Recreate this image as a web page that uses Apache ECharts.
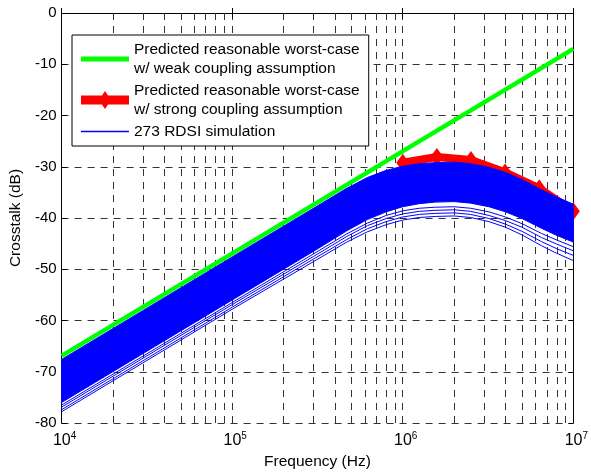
<!DOCTYPE html>
<html>
<head>
<meta charset="utf-8">
<script src="https://cdn.jsdelivr.net/npm/echarts@6/dist/echarts.min.js"></script>
<style>
  html, body { margin: 0; padding: 0; background: #fff; }
  #chart { width: 591px; height: 475px; }
</style>
</head>
<body>
<div id="chart"></div>
<script>
// frequency points (Hz) used for the simulation band
const freqs = [1e4, 1e5, 3e5, 4.7e5, 6.2e5, 8e5, 1e6, 1.25e6, 1.55e6, 2e6, 2.5e6, 3.2e6, 4e6, 5e6, 6.5e6, 8e6, 1e7];
// upper / lower edge of the dense part of the 273 simulated curves (dB)
const bandTop = [-67.6, -47.6, -38.1, -34.2, -32.1, -30.7, -29.9, -29.4, -29.2, -29.1, -29.4, -30.1, -31.1, -32.5, -34.5, -35.9, -37.3];
const bandBottom = [-76.0, -56.0, -46.5, -42.5, -40.3, -38.8, -37.8, -37.2, -36.9, -36.8, -37.1, -37.8, -38.8, -40.1, -42.0, -43.4, -44.7];
// a few separate curves below the dense part
const lowLine1 = [-76.5, -56.5, -47.0, -43.1, -41.0, -39.5, -38.6, -38.1, -37.9, -37.8, -38.1, -38.8, -39.8, -41.1, -43.0, -44.3, -45.6];
const lowLine2 = [-76.9, -56.9, -47.5, -43.6, -41.5, -40.1, -39.2, -38.7, -38.5, -38.4, -38.7, -39.5, -40.5, -41.8, -43.8, -45.1, -46.4];
const lowLine3 = [-77.4, -57.4, -48.0, -44.2, -42.1, -40.7, -39.8, -39.3, -39.1, -39.0, -39.3, -40.1, -41.2, -42.6, -44.6, -46.0, -47.3];
const lowLine4 = [-77.8, -57.8, -48.5, -44.7, -42.7, -41.3, -40.4, -39.9, -39.7, -39.6, -39.9, -40.7, -41.8, -43.3, -45.4, -46.9, -48.3];

// weak coupling worst case (straight line)
const weakFreqs = [1e4, 1e7];
const weakValues = [-66.9, -7.0];

// strong coupling worst case
const strongFreqs = [1e6, 1.585e6, 2.512e6, 3.981e6, 6.31e6, 1e7];
const strongValues = [-29.2, -28.1, -28.7, -31.1, -34.2, -38.7];

// log grid lines between decades
const minorFreqs = [
  2e4, 3e4, 4e4, 5e4, 6e4, 7e4, 8e4, 9e4,
  2e5, 3e5, 4e5, 5e5, 6e5, 7e5, 8e5, 9e5,
  2e6, 3e6, 4e6, 5e6, 6e6, 7e6, 8e6, 9e6,
];

const NAME_WEAK = 'weak';
const NAME_STRONG = 'strong';
const NAME_SIM = 'sim';
const legendText = {
  weak: 'Predicted reasonable worst-case\nw/ weak coupling assumption',
  strong: 'Predicted reasonable worst-case\nw/ strong coupling assumption',
  sim: '273 RDSI simulation',
};

const FONT = 'Liberation Sans, Arial, sans-serif';
const BLUE = '#0000ff';
const GREEN = '#00ff00';
const RED = '#ff0000';
const gridDash = { type: [7, 6], color: '#333', width: 1 };

const pairs = (xs, ys) => xs.map((x, i) => [x, ys[i]]);

const blueLine = {
  type: 'line',
  symbol: 'none',
  z: 4,
  color: BLUE,
  lineStyle: { color: BLUE, width: 1 },
  itemStyle: { color: BLUE, borderColor: BLUE },
  animation: false,
};

const chart = echarts.init(document.getElementById('chart'));
chart.setOption({
  animation: false,
  textStyle: { fontFamily: FONT },
  grid: {
    left: 60, right: 11, top: 13, bottom: 50,
  },
  legend: {
    z: 20,
    orient: 'vertical',
    left: 72,
    top: 35,
    padding: [5, 9, 5, 9],
    itemGap: 3,
    itemWidth: 48,
    itemHeight: 18,
    symbolKeepAspect: true,
    backgroundColor: '#fff',
    borderColor: '#000',
    borderWidth: 1,
    borderRadius: 0,
    selectedMode: false,
    textStyle: {
      fontFamily: FONT, fontSize: 15.5, lineHeight: 19, color: '#000',
    },
    formatter: (name) => legendText[name],
    data: [
      {
        name: NAME_WEAK,
        icon: 'path://M0,0h48v5h-48z',
        itemStyle: { color: GREEN, borderWidth: 0 },
      },
      {
        name: NAME_STRONG,
        icon: 'path://M0,4.5h48v9h-48z M24,0L30,9L24,18L18,9z',
        itemStyle: { color: RED, borderWidth: 0 },
      },
      {
        name: NAME_SIM,
        icon: 'path://M0,0h48v1.5h-48z',
        itemStyle: { color: BLUE, borderColor: BLUE, borderWidth: 0 },
      },
    ],
  },
  xAxis: [
    {
      type: 'log',
      logBase: 10,
      min: 1e4,
      max: 1e7,
      name: 'Frequency (Hz)',
      nameLocation: 'middle',
      nameGap: 31,
      nameTextStyle: { fontFamily: FONT, fontSize: 15.5, color: '#000' },
      axisLine: { lineStyle: { color: '#000', width: 1 } },
      axisTick: { inside: true, length: 5, lineStyle: { color: '#000' } },
      axisLabel: {
        margin: 8,
        color: '#000',
        formatter: (v) => `{b|10}{s|${Math.round(Math.log10(v))}}`,
        rich: {
          b: { fontFamily: FONT, fontSize: 16, padding: [0, 0, 0, 6] },
          s: { fontFamily: FONT, fontSize: 10, padding: [0, 0, 9, 0] },
        },
      },
      splitLine: { show: true, lineStyle: gridDash },
    },
    {
      type: 'log',
      logBase: 10,
      min: 1e4,
      max: 1e7,
      position: 'top',
      axisLine: { lineStyle: { color: '#000', width: 1 } },
      axisTick: { inside: true, length: 5, lineStyle: { color: '#000' } },
      axisLabel: { show: false },
      splitLine: { show: false },
    },
  ],
  yAxis: [
    {
      type: 'value',
      min: -80,
      max: 0,
      interval: 10,
      name: 'Crosstalk (dB)',
      nameLocation: 'middle',
      nameGap: 37,
      nameTextStyle: { fontFamily: FONT, fontSize: 15.5, color: '#000' },
      axisLine: { show: true, lineStyle: { color: '#000', width: 1 } },
      axisTick: { show: true, inside: true, length: 5, lineStyle: { color: '#000' } },
      axisLabel: {
        margin: 5, color: '#000', fontFamily: FONT, fontSize: 15,
      },
      splitLine: { show: true, lineStyle: gridDash },
    },
    {
      type: 'value',
      min: -80,
      max: 0,
      interval: 10,
      position: 'right',
      axisLine: { show: true, lineStyle: { color: '#000', width: 1 } },
      axisTick: { show: true, inside: true, length: 5, lineStyle: { color: '#000' } },
      axisLabel: { show: false },
      splitLine: { show: false },
    },
  ],
  series: [
    {
      // minor log grid
      name: 'minorGrid',
      type: 'line',
      data: [],
      z: 1,
      markLine: {
        z: 1,
        silent: true,
        animation: false,
        symbol: ['none', 'none'],
        label: { show: false },
        lineStyle: gridDash,
        data: minorFreqs.map((f) => ({ xAxis: f })),
      },
    },
    {
      name: NAME_WEAK,
      type: 'line',
      symbol: 'none',
      z: 2,
      data: pairs(weakFreqs, weakValues),
      lineStyle: { color: GREEN, width: 4.5 },
      itemStyle: { color: GREEN },
    },
    {
      name: NAME_STRONG,
      type: 'line',
      symbol: 'diamond',
      symbolSize: [13, 18],
      showSymbol: true,
      clip: false,
      z: 3,
      data: pairs(strongFreqs, strongValues),
      lineStyle: { color: RED, width: 8 },
      itemStyle: { color: RED },
    },
    {
      ...blueLine,
      name: NAME_SIM,
      data: pairs(freqs, lowLine1),
    },
    { ...blueLine, name: 'low2', data: pairs(freqs, lowLine2) },
    { ...blueLine, name: 'low3', data: pairs(freqs, lowLine3) },
    { ...blueLine, name: 'low4', data: pairs(freqs, lowLine4) },
    {
      // dense part of the simulated curves, filled between its edges
      name: 'band',
      type: 'custom',
      coordinateSystem: 'cartesian2d',
      z: 4,
      silent: true,
      data: [[freqs[0], bandTop[0]]],
      renderItem: (params, api) => {
        const upper = freqs.map((f, i) => api.coord([f, bandTop[i]]));
        const lower = freqs.map((f, i) => api.coord([f, bandBottom[i]])).reverse();
        return {
          type: 'polygon',
          shape: { points: upper.concat(lower) },
          style: { fill: BLUE, stroke: BLUE, lineWidth: 1 },
        };
      },
    },
  ],
});
</script>
</body>
</html>
